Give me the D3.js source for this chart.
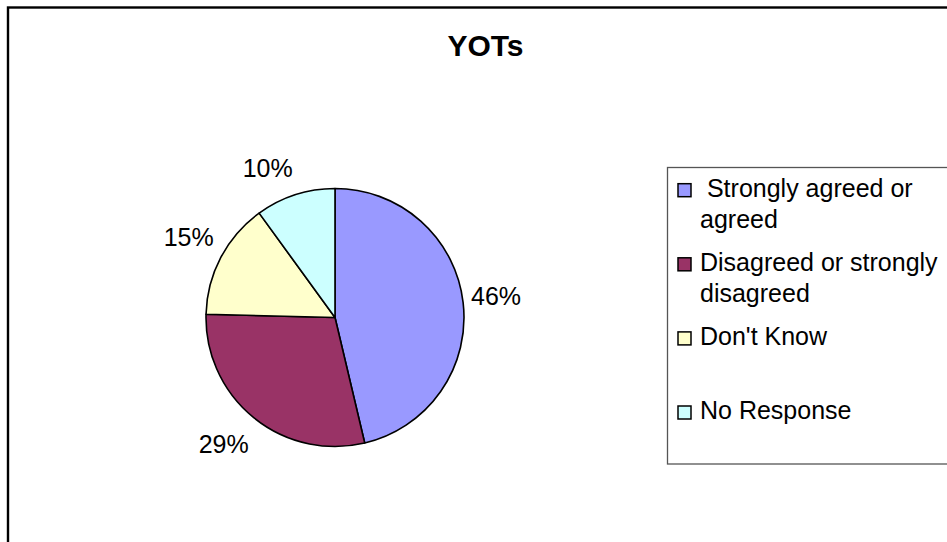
<!DOCTYPE html>
<html>
<head>
<meta charset="utf-8">
<script src="https://cdn.jsdelivr.net/npm/d3@7"></script>
<style>
  html, body { margin: 0; padding: 0; background: #fff; overflow: hidden; }
  text { font-family: "Liberation Sans", Arial, sans-serif; fill: #000; }
</style>
</head>
<body>
<svg id="chart" width="947" height="542"></svg>
<script>
// ---- data ----
const title = "YOTs";
const categories = [" Strongly agreed or agreed", "Disagreed or strongly disagreed", "Don't Know", "No Response"];
const legendLines = [[" Strongly agreed or", "agreed"], ["Disagreed or strongly", "disagreed"], ["Don't Know"], ["No Response"]];
const values = [46.3, 29.1, 14.6, 10.0];
const colors = ["#9999FF", "#993366", "#FFFFCC", "#CCFFFF"];

// ---- layout ----
const svg = d3.select("#chart");

// outer chart border (extends beyond the visible window on right/bottom)
svg.append("rect")
  .attr("x", 8).attr("y", 7.5)
  .attr("width", 1000).attr("height", 600)
  .attr("fill", "none").attr("stroke", "#000").attr("stroke-width", 2.4);

svg.append("text")
  .attr("x", 485.5).attr("y", 56)
  .attr("text-anchor", "middle")
  .style("font-size", "30px").style("font-weight", "bold")
  .text(title);

const cx = 335, cy = 317.5, R = 129;
const g = svg.append("g").attr("transform", `translate(${cx},${cy})`);

const pie = d3.pie().sort(null).value(d => d);
const arcs = pie(values);
const arc = d3.arc().innerRadius(0).outerRadius(R);

g.selectAll("path.slice")
  .data(arcs)
  .enter().append("path")
  .attr("class", "slice")
  .attr("d", arc)
  .attr("fill", (d, i) => colors[i])
  .attr("stroke", "#000")
  .attr("stroke-width", 1.6)
  .attr("stroke-linejoin", "round");

// percentage labels, outside end
const total = d3.sum(values);
const fmt = v => Math.round(v / total * 100) + "%";
const labelFont = 25, gapX = 8, gapY = 12, boxH = 32, k = 3.3;
const clamp = v => Math.max(-1, Math.min(1, v));
g.selectAll("text.pct")
  .data(arcs)
  .enter().append("text")
  .attr("class", "pct")
  .style("font-size", labelFont + "px")
  .attr("text-anchor", "middle")
  .attr("dominant-baseline", "central")
  .text(d => fmt(d.data))
  .each(function (d) {
    const a = (d.startAngle + d.endAngle) / 2;
    const w = this.getComputedTextLength();
    const px = (R + gapX) * Math.sin(a), py = -(R + gapY) * Math.cos(a);
    const ox = w / 2 * clamp(k * Math.sin(a));
    const oy = -boxH / 2 * clamp(k * Math.cos(a));
    d3.select(this).attr("x", px + ox).attr("y", py + oy + 1);
  });

// legend
const lgX = 667.5, lgY = 167.5;
svg.append("rect")
  .attr("x", lgX).attr("y", lgY)
  .attr("width", 400).attr("height", 464 - lgY)
  .attr("fill", "#fff").attr("stroke", "#555").attr("stroke-width", 1.3);

const slot = 74.1, firstBase = 196.7, lineH = 31.5;
const items = svg.selectAll("g.leg")
  .data(categories)
  .enter().append("g")
  .attr("class", "leg")
  .attr("transform", (d, i) => `translate(0,${firstBase + i * slot})`);

items.append("rect")
  .attr("x", 678).attr("y", -13)
  .attr("width", 13).attr("height", 13)
  .attr("fill", (d, i) => colors[i])
  .attr("stroke", "#000").attr("stroke-width", 1.5);

items.append("text")
  .style("font-size", "25px")
  .attr("xml:space", "preserve")
  .style("white-space", "pre")
  .each(function (d, i) {
    const t = d3.select(this);
    legendLines[i].forEach((ln, j) => {
      t.append("tspan").attr("x", 700).attr("y", j * lineH).text(ln);
    });
  });
</script>
</body>
</html>
